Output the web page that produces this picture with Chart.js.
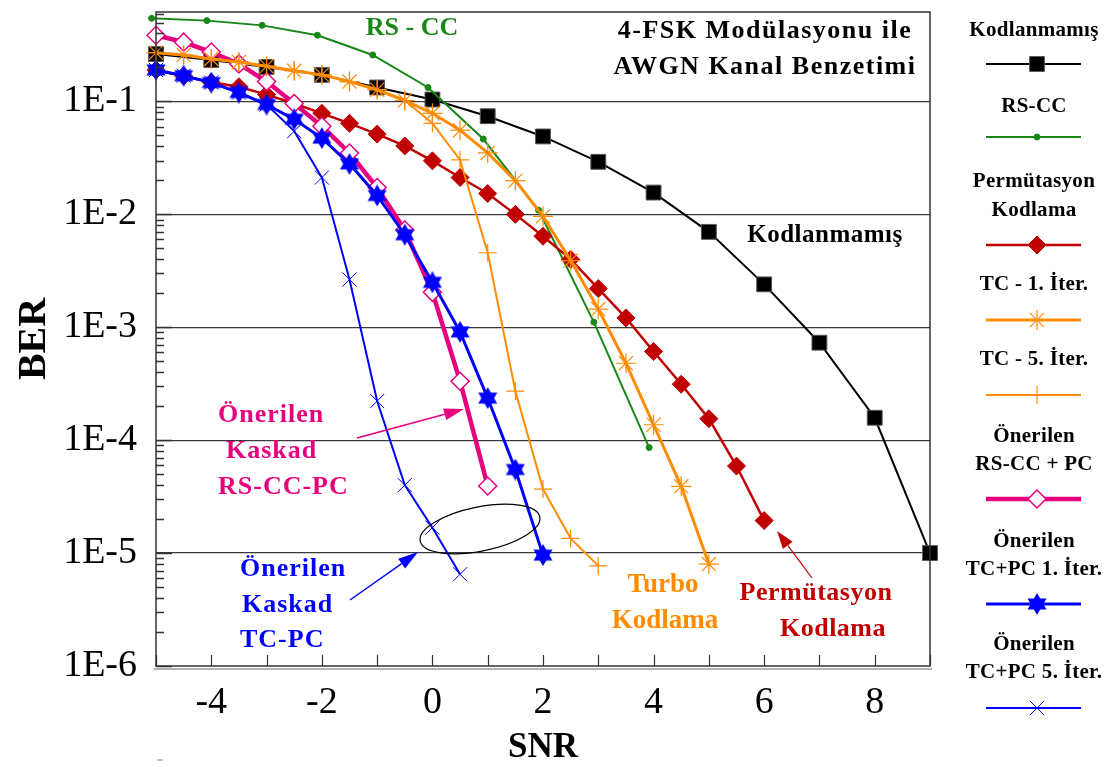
<!DOCTYPE html>
<html>
<head>
<meta charset="utf-8">
<title>4-FSK BER</title>
<script src="https://cdn.jsdelivr.net/npm/chart.js@4.4.0/dist/chart.umd.min.js"></script>
<style>
  html, body { margin: 0; padding: 0; background: #fff; }
  #ber { display: block; }
</style>
</head>
<body>
<canvas id="ber" width="1112" height="774"></canvas>
<script>
// SNR (dB) / BER pairs for every curve
const snrUncoded = [-5, -4, -3, -2, -1, 0, 1, 2, 3, 4, 5, 6, 7, 8, 9];
const berUncoded = [0.263, 0.233, 0.202, 0.172, 0.133, 0.104, 0.074, 0.049, 0.0292, 0.0156, 0.0070, 0.0024, 0.00073, 0.000158, 0.00001];

const snrRsCc = [-5.08, -4.08, -3.08, -2.08, -1.08, -0.08, 0.92, 1.92, 2.92, 3.92];
const berRsCc = [0.545, 0.52, 0.472, 0.386, 0.258, 0.133, 0.0465, 0.0109, 0.00111, 0.000086];

const snrPerm = [-5, -4.5, -4, -3.5, -3, -2.5, -2, -1.5, -1, -0.5, 0, 0.5, 1, 1.5, 2, 2.5, 3, 3.5, 4, 4.5, 5, 5.5, 6];
const berPerm = [0.19, 0.168, 0.148, 0.135, 0.115, 0.096, 0.0785, 0.064, 0.0514, 0.0404, 0.0298, 0.0212, 0.0153, 0.0100, 0.0064, 0.0040, 0.0022, 0.00121, 0.00061, 0.000313, 0.000155, 0.000059, 0.0000194];

const snrTc1 = [-5, -4.5, -4, -3.5, -3, -2.5, -2, -1.5, -1, -0.5, 0, 0.5, 1, 1.5, 2, 2.5, 3, 3.5, 4, 4.5, 5];
const berTc1 = [0.27, 0.258, 0.238, 0.224, 0.205, 0.187, 0.172, 0.15, 0.127, 0.102, 0.0785, 0.0557, 0.035, 0.0199, 0.0096, 0.0039, 0.00145, 0.00048, 0.000137, 0.000039, 0.000008];

const snrTc5 = [-5, -4.5, -4, -3.5, -3, -2.5, -2, -1.5, -1, -0.5, 0, 0.5, 1, 1.5, 2, 2.5, 3];
const berTc5 = [0.27, 0.258, 0.238, 0.224, 0.205, 0.187, 0.172, 0.15, 0.127, 0.102, 0.064, 0.0304, 0.00457, 0.000272, 0.0000369, 0.0000135, 0.0000077];

const snrRsPc = [-5, -4.5, -4, -3.5, -3, -2.5, -2, -1.5, -1, -0.5, 0, 0.5, 1];
const berRsPc = [0.386, 0.335, 0.274, 0.215, 0.15, 0.096, 0.0604, 0.035, 0.0173, 0.00727, 0.00204, 0.000333, 0.0000393];

const snrTcPc1 = [-5, -4.5, -4, -3.5, -3, -2.5, -2, -1.5, -1, -0.5, 0, 0.5, 1, 1.5, 2];
const berTcPc1 = [0.19, 0.169, 0.147, 0.12, 0.094, 0.0695, 0.0474, 0.028, 0.0147, 0.0066, 0.0025, 0.00091, 0.000236, 0.000055, 0.0000096];

const snrTcPc5 = [-5, -4.5, -4, -3.5, -3, -2.5, -2, -1.5, -1, -0.5, 0, 0.5];
const berTcPc5 = [0.19, 0.169, 0.147, 0.12, 0.094, 0.0546, 0.0212, 0.00265, 0.000222, 0.00004, 0.0000168, 0.0000065];

// axis labels
const berDecades = [1e-1, 1e-2, 1e-3, 1e-4, 1e-5, 1e-6];
const berDecadeLabels = ['1E-1', '1E-2', '1E-3', '1E-4', '1E-5', '1E-6'];
const snrTickValues = [-4, -2, 0, 2, 4, 6, 8];
const snrTickLabels = ['-4', '-2', '0', '2', '4', '6', '8'];

const SERIF = "'Liberation Serif', 'Times New Roman', Times, serif";
const GREEN = '#178717', RED = '#C00000', ORANGE = '#FF8C00', MAGENTA = '#E6007E', BLUE = '#0000FF';

function pts(xs, ys) {
  return xs.map((x, i) => ({ x: x, y: ys[i] }));
}

// filled six-pointed star used as a point marker
function hexStar(size, color) {
  const c = document.createElement('canvas');
  c.width = c.height = size;
  const g = c.getContext('2d');
  const r = size / 2;
  g.fillStyle = color;
  [-Math.PI / 2, Math.PI / 2].forEach(function (rot) {
    g.beginPath();
    for (let k = 0; k < 3; k++) {
      const a = rot + k * 2 * Math.PI / 3;
      const px = r + r * Math.cos(a), py = r + r * Math.sin(a);
      if (k) g.lineTo(px, py); else g.moveTo(px, py);
    }
    g.closePath();
    g.fill();
  });
  return c;
}
const starMarker = hexStar(22, BLUE);

// minor ticks 2..9 of every decade plus the decades themselves
function logTicks() {
  const out = [];
  for (let e = -6; e <= -1; e++) {
    for (let m = 1; m <= 9; m++) {
      const v = m * Math.pow(10, e);
      if (v <= 0.62) out.push({ value: v });
    }
  }
  return out;
}
function isDecade(v) {
  const l = Math.log10(v);
  return Math.abs(l - Math.round(l)) < 1e-9;
}

function line(ctx, x1, y1, x2, y2) {
  ctx.beginPath(); ctx.moveTo(x1, y1); ctx.lineTo(x2, y2); ctx.stroke();
}
function arrow(ctx, x1, y1, x2, y2, color, width, head, half) {
  const a = Math.atan2(y2 - y1, x2 - x1);
  const bx = x2 - head * Math.cos(a), by = y2 - head * Math.sin(a);
  ctx.strokeStyle = color; ctx.fillStyle = color; ctx.lineWidth = width;
  line(ctx, x1, y1, bx, by);
  ctx.beginPath();
  ctx.moveTo(x2, y2);
  ctx.lineTo(bx + half * Math.sin(a), by - half * Math.cos(a));
  ctx.lineTo(bx - half * Math.sin(a), by + half * Math.cos(a));
  ctx.closePath();
  ctx.fill();
}
function text(ctx, str, x, y, color, size, align, spacing) {
  ctx.font = 'bold ' + size + 'px ' + SERIF;
  ctx.fillStyle = color;
  ctx.textAlign = align || 'center';
  ctx.textBaseline = 'middle';
  if ('letterSpacing' in ctx) ctx.letterSpacing = (spacing || 0) + 'px';
  ctx.fillText(str, x, y);
  if ('letterSpacing' in ctx) ctx.letterSpacing = '0px';
}

// frame, inward ticks and the in-plot notes
const plotDecor = {
  id: 'plotDecor',
  afterDatasetsDraw(chart) {
    const ctx = chart.ctx, a = chart.chartArea;
    const xs = chart.scales.x, ys = chart.scales.y;
    ctx.save();
    ctx.strokeStyle = '#333';
    ctx.lineWidth = 1.5;
    ctx.strokeRect(a.left, a.top, a.right - a.left, a.bottom - a.top);
    ctx.lineWidth = 1;
    ctx.strokeStyle = '#666';
    line(ctx, a.left - 2, a.bottom + 3, a.right + 2, a.bottom + 3);

    ctx.strokeStyle = '#333';
    ctx.lineWidth = 1.5;
    ys.ticks.forEach(function (t) {
      const py = Math.round(ys.getPixelForValue(t.value)) + 0.5;
      line(ctx, a.left, py, a.left + (isDecade(t.value) ? 16 : 8), py);
    });
    ctx.lineWidth = 1.2;
    xs.ticks.forEach(function (t) {
      const px = Math.round(xs.getPixelForValue(t.value)) + 0.5;
      line(ctx, px, a.bottom, px, a.bottom - 11);
    });
    ctx.strokeStyle = '#888';
    ctx.lineWidth = 1;
    line(ctx, a.left + 1, 760, a.left + 7, 760);

    text(ctx, 'RS - CC', 412, 28, GREEN, 26);
    text(ctx, '4-FSK Modülasyonu ile', 765, 31, '#000', 26, 'center', 1.5);
    text(ctx, 'AWGN Kanal Benzetimi', 765, 67, '#000', 26, 'center', 1.5);
    text(ctx, 'Kodlanmamış', 825, 236, '#000', 25, 'center', 0.5);

    text(ctx, 'Önerilen', 218, 415, MAGENTA, 26, 'left', 1);
    text(ctx, 'Kaskad', 226, 451, MAGENTA, 26, 'left', 1);
    text(ctx, 'RS-CC-PC', 218, 487, MAGENTA, 26, 'left', 1);
    arrow(ctx, 357, 438, 464, 409, MAGENTA, 1.5, 20, 6);

    text(ctx, 'Önerilen', 240, 569, BLUE, 26, 'left', 1);
    text(ctx, 'Kaskad', 242, 605, BLUE, 26, 'left', 1);
    text(ctx, 'TC-PC', 240, 640, BLUE, 26, 'left', 1);
    arrow(ctx, 350, 600, 418, 552, BLUE, 1.5, 20, 6);

    ctx.strokeStyle = '#000';
    ctx.lineWidth = 1.2;
    ctx.beginPath();
    ctx.ellipse(480, 529, 61, 22, -0.2, 0, Math.PI * 2);
    ctx.stroke();

    text(ctx, 'Turbo', 663, 585, ORANGE, 27);
    text(ctx, 'Kodlama', 665, 621, ORANGE, 27);
    text(ctx, 'Permütasyon', 816, 593, RED, 26, 'center', 0.5);
    text(ctx, 'Kodlama', 833, 629, RED, 26, 'center', 0.5);
    arrow(ctx, 812, 578, 777, 531, RED, 1.2, 18, 6);
    ctx.restore();
  }
};

// legend column to the right of the plot
const legendSlots = [
  { text: [31], line: 64 },
  { text: [107], line: 137 },
  { text: [182, 211], line: 245 },
  { text: [285], line: 320 },
  { text: [360], line: 395 },
  { text: [437, 465], line: 499 },
  { text: [542, 570], line: 604 },
  { text: [645, 673], line: 708 }
];
const sideLegend = {
  id: 'sideLegend',
  afterDraw(chart) {
    const ctx = chart.ctx;
    ctx.save();
    chart.data.datasets.forEach(function (ds, i) {
      const slot = legendSlots[i];
      ds.label.split('\n').forEach(function (ln, k) {
        text(ctx, ln, 1034, slot.text[k], '#000', 21, 'center', 0.3);
      });
      ctx.strokeStyle = ds.borderColor;
      ctx.lineWidth = ds.borderWidth;
      line(ctx, 986, slot.line, 1081, slot.line);
      ctx.fillStyle = ds.pointBackgroundColor;
      ctx.strokeStyle = ds.pointBorderColor;
      ctx.lineWidth = ds.pointBorderWidth;
      Chart.helpers.drawPoint(ctx, {
        pointStyle: ds.pointStyle, radius: ds.pointRadius, rotation: 0, borderWidth: ds.pointBorderWidth
      }, 1037, slot.line);
    });
    ctx.restore();
  }
};

function series(label, xs, ys, color, width, style, radius, fill, pbw, order) {
  return {
    label: label,
    data: pts(xs, ys),
    borderColor: color,
    borderWidth: width,
    pointStyle: style,
    pointRadius: radius,
    pointBackgroundColor: fill,
    pointBorderColor: style === 'rect' ? '#555' : color,
    pointBorderWidth: pbw,
    tension: 0,
    clip: false,
    order: order
  };
}

new Chart(document.getElementById('ber'), {
  type: 'line',
  data: {
    datasets: [
      series('Kodlanmamış', snrUncoded, berUncoded, '#000', 2, 'rect', 10.5, '#000', 1, 7),
      series('RS-CC', snrRsCc, berRsCc, GREEN, 2, 'circle', 3, GREEN, 1, 6),
      series('Permütasyon\nKodlama', snrPerm, berPerm, RED, 2.5, 'rectRot', 9, RED, 1, 5),
      series('TC - 1. İter.', snrTc1, berTc1, ORANGE, 3, 'star', 10, ORANGE, 1.2, 1),
      series('TC - 5. İter.', snrTc5, berTc5, ORANGE, 2, 'cross', 9, ORANGE, 1.2, 0),
      series('Önerilen\nRS-CC + PC', snrRsPc, berRsPc, MAGENTA, 4.5, 'rectRot', 9, '#fff', 1.5, 4),
      series('Önerilen\nTC+PC 1. İter.', snrTcPc1, berTcPc1, BLUE, 3, starMarker, 11, BLUE, 1, 3),
      series('Önerilen\nTC+PC 5. İter.', snrTcPc5, berTcPc5, BLUE, 2, 'crossRot', 10, BLUE, 1, 2)
    ]
  },
  options: {
    responsive: false,
    animation: false,
    events: [],
    layout: { padding: { top: 4, right: 182, left: 0, bottom: 0 } },
    plugins: { legend: { display: false }, tooltip: { enabled: false } },
    scales: {
      x: {
        type: 'linear',
        min: -5,
        max: 9,
        afterFit: function (s) {
          s.height = 108;
          s.paddingLeft = 0;
          s.paddingRight = 0;
        },
        afterBuildTicks: function (s) {
          const t = [];
          for (let v = -5; v <= 9; v++) t.push({ value: v });
          s.ticks = t;
        },
        grid: { display: false, drawTicks: false },
        border: { display: false },
        ticks: {
          autoSkip: false,
          maxRotation: 0,
          padding: 14,
          color: '#000',
          font: { family: SERIF, size: 38 },
          callback: function (v) {
            const k = snrTickValues.indexOf(v);
            return k >= 0 ? snrTickLabels[k] : '';
          }
        },
        title: {
          display: true,
          text: 'SNR',
          color: '#000',
          font: { family: SERIF, size: 35, weight: 'bold' },
          padding: { top: 0, bottom: 5 }
        }
      },
      y: {
        type: 'logarithmic',
        min: 1e-6,
        max: 0.62,
        afterFit: function (s) {
          s.width = 156;
          s.paddingTop = 0;
          s.paddingBottom = 0;
        },
        afterBuildTicks: function (s) { s.ticks = logTicks(); },
        grid: {
          drawTicks: false,
          lineWidth: 1.3,
          color: function (c) {
            return c.tick && isDecade(c.tick.value) && c.tick.value > 1.5e-6 ? '#3a3a3a' : 'rgba(0,0,0,0)';
          }
        },
        border: { display: false },
        ticks: {
          autoSkip: false,
          padding: 19,
          color: '#000',
          font: { family: SERIF, size: 38 },
          callback: function (v) {
            for (let k = 0; k < berDecades.length; k++) {
              if (Math.abs(v / berDecades[k] - 1) < 1e-6) return berDecadeLabels[k];
            }
            return '';
          }
        },
        title: {
          display: true,
          text: 'BER',
          color: '#000',
          font: { family: SERIF, size: 40, weight: 'bold' },
          padding: { top: 11, bottom: 0 }
        }
      }
    }
  },
  plugins: [plotDecor, sideLegend]
});
</script>
</body>
</html>
